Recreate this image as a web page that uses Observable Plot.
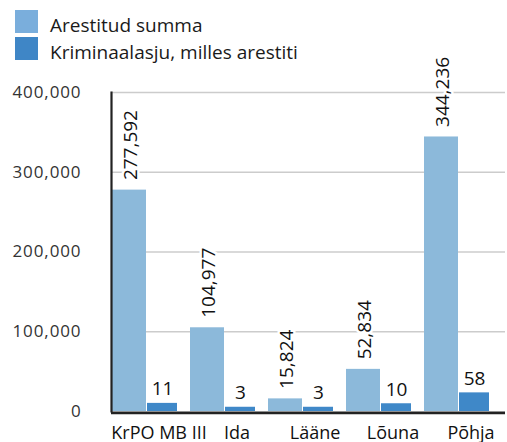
<!DOCTYPE html>
<html><head><meta charset="utf-8">
<script src="https://cdn.jsdelivr.net/npm/d3@7"></script>
<script src="https://cdn.jsdelivr.net/npm/@observablehq/plot@0.6"></script>
<style>
body{margin:0;background:#fff;font-family:"Open Sans",sans-serif;}
#wrap{position:relative;width:507px;height:442px;overflow:hidden;background:#fff;}
#chart{position:absolute;left:0;top:0;}
#legend{position:absolute;left:15px;top:10px;}
.item{display:flex;align-items:flex-start;height:27px;}
.sw{width:23px;height:23px;margin-right:12px;flex:none;}
.lt{font-size:19px;line-height:27px;margin-top:2px;color:#1a1a1a;white-space:nowrap;}
</style></head><body>
<div id="wrap"><div id="chart"></div><div id="legend"></div></div>
<script>
const categories = ["KrPO MB III", "Ida", "Lääne", "Lõuna", "Põhja"];
const arestitudSumma = [277592, 104977, 15824, 52834, 344236];
const kriminaalasju = [11, 3, 3, 10, 58];
const seriesNames = ["Arestitud summa", "Kriminaalasju, milles arestiti"];
const yTicks = [0, 100000, 200000, 300000, 400000];

const barColors = ["#8cb9da", "#3f88c8"];
const legendColors = ["#7aaedc", "#3f86c6"];

// secondary (square-root) scale for the case counts, mapped onto the primary axis units
const countScale = d3.scaleSqrt().domain([0, 17000]).range([0, 400000]);

const light = categories.map((c, i) => ({cat: c, value: arestitudSumma[i]}));
const dark = categories.map((c, i) => ({cat: c, value: kriminaalasju[i], y: countScale(kriminaalasju[i])}));

const fmt = d3.format(",");

const plot = Plot.plot({
  width: 507,
  height: 442,
  marginLeft: 111,
  marginRight: 2,
  marginTop: 92,
  marginBottom: 31,
  style: {fontFamily: "'Open Sans', sans-serif", background: "transparent"},
  x: {type: "band", domain: categories, range: [111.5, 493], paddingInner: 0.165, paddingOuter: 0, align: 0, label: null},
  y: {domain: [0, 400000], range: [411, 92], label: null},
  marks: [
    Plot.ruleY(yTicks.filter(d => d > 0), {stroke: "#cccccc", strokeWidth: 1.6}),
    Plot.barY(light, {x: "cat", y: "value", fill: barColors[0], insetRight: 31}),
    Plot.barY(dark, {x: "cat", y: "y", fill: barColors[1], insetLeft: 35}),
    Plot.text(light, {
      x: "cat", y: "value", text: d => fmt(d.value), rotate: -90,
      textAnchor: "start", lineAnchor: "middle", dx: -14.5, dy: -10,
      fontSize: 19, fill: "#111", stroke: "white", strokeWidth: 5, paintOrder: "stroke"
    }),
    Plot.text(dark, {
      x: "cat", y: "y", text: d => String(d.value),
      lineAnchor: "bottom", dx: 17.5, dy: -8,
      fontSize: 19, fill: "#111"
    }),
    Plot.frame({anchor: "left", stroke: "#222", strokeWidth: 2.2}),
    Plot.ruleY([0], {stroke: "#222", strokeWidth: 2.7, dy: 1.4}),
    Plot.axisY({ticks: yTicks, tickSize: 0, tickPadding: 30, tickFormat: fmt, fontSize: 17, fill: "#333", label: null}),
    Plot.axisX({tickSize: 0, tickPadding: 15, fontSize: 18, fill: "#111", dx: 14, label: null})
  ]
});

d3.select(plot).selectAll('[aria-label="y-axis tick label"] text').attr("letter-spacing", "0.9px");
document.getElementById("chart").appendChild(plot);

const legend = document.getElementById("legend");
seriesNames.forEach((name, i) => {
  const row = document.createElement("div");
  row.className = "item";
  const sw = document.createElement("div");
  sw.className = "sw";
  sw.style.background = legendColors[i];
  const t = document.createElement("div");
  t.className = "lt";
  t.textContent = name;
  row.appendChild(sw);
  row.appendChild(t);
  legend.appendChild(row);
});
</script>
</body></html>
